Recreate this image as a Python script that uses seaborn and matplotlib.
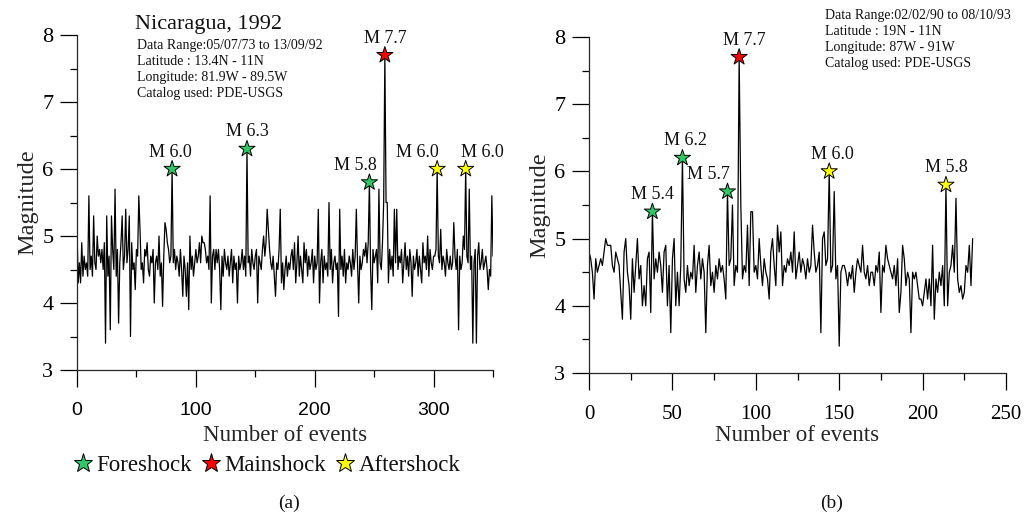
import numpy as np
import pandas as pd
import matplotlib
matplotlib.use("Agg")
import matplotlib.pyplot as plt
from matplotlib.lines import Line2D
from matplotlib.ticker import MultipleLocator
import seaborn as sns

# ---------------- data ----------------
# Magnitude sequence, Nicaragua 1992 (event number 0..350)
mag_a = [
    5.1, 4.3, 4.6, 4.3, 4.9, 4.4, 4.7, 4.5, 4.6, 4.4,
    5.6, 4.5, 4.7, 4.4, 5.3, 4.6, 4.5, 5.0, 4.7, 4.8,
    4.6, 4.8, 4.5, 4.9, 3.4, 5.3, 4.4, 4.7, 3.6, 5.3,
    4.8, 4.5, 5.7, 4.4, 4.8, 3.7, 4.6, 4.9, 5.3, 4.5,
    4.7, 5.4, 4.6, 4.8, 5.3, 3.5, 4.9, 4.5, 4.6, 4.2,
    4.8, 4.7, 5.6, 5.1, 4.5, 4.6, 4.3, 4.8, 4.7, 4.9,
    4.5, 4.4, 4.7, 4.6, 4.8, 4.0, 4.6, 4.7, 4.5, 5.0,
    4.4, 4.6, 3.95, 4.7, 5.2, 5.1, 4.9, 4.8, 4.6, 4.7,
    6.0, 4.6, 4.8, 4.5, 4.7, 4.6, 4.4, 4.8, 4.5, 4.1,
    4.7, 4.5, 4.1, 4.6, 3.9, 5.0, 4.5, 4.7, 4.4, 4.6,
    4.8, 4.6, 4.7, 4.9, 4.6, 5.0, 4.9, 4.9, 4.8, 4.6,
    4.7, 4.5, 5.6, 4.0, 4.7, 4.8, 4.5, 4.8, 4.6, 4.8,
    4.5, 3.9, 4.7, 4.4, 4.8, 4.6, 4.5, 4.7, 4.4, 4.6,
    4.8, 4.3, 4.7, 4.5, 4.6, 4.0, 4.7, 4.5, 4.6, 4.8,
    4.5, 4.7, 4.4, 6.3, 4.6, 4.7, 4.4, 4.8, 4.6, 4.5,
    4.7, 4.8, 4.0, 4.7, 4.6, 4.5, 4.8, 5.0, 4.7, 4.9,
    5.4, 5.1, 4.8, 4.6, 4.5, 4.7, 4.4, 4.1, 4.6, 4.5,
    4.8, 5.4, 4.3, 4.6, 4.2, 4.5, 4.7, 4.4, 4.6, 4.5,
    4.7, 4.8, 4.5, 4.9, 4.3, 4.6, 5.0, 4.4, 4.7, 4.5,
    4.3, 4.9, 4.6, 4.8, 4.4, 4.7, 4.5, 4.6, 4.8, 4.3,
    4.7, 4.5, 4.6, 5.4, 4.0, 4.6, 4.8, 4.3, 4.7, 4.5,
    4.6, 4.4, 5.5, 4.5, 4.8, 4.3, 4.6, 4.7, 4.5, 4.6,
    3.8, 5.4, 4.5, 4.7, 4.4, 4.8, 4.3, 4.6, 4.5, 4.7,
    4.6, 4.4, 4.8, 4.5, 4.7, 5.4, 4.6, 4.0, 4.7, 4.5,
    4.6, 4.8, 4.7, 4.9, 4.6, 4.9, 5.8, 4.5, 3.9, 4.8,
    4.6, 4.7, 4.8, 4.3, 5.7, 4.6, 4.5, 4.9, 5.5, 7.7,
    5.5, 5.5, 4.3, 4.8, 4.5, 4.7, 4.4, 5.4, 4.6, 5.4,
    4.5, 4.7, 4.6, 4.8, 4.3, 4.6, 4.9, 4.5, 4.7, 4.4,
    4.8, 4.6, 4.1, 4.7, 4.5, 4.6, 4.8, 4.4, 4.7, 4.5,
    4.3, 4.9, 4.6, 4.7, 4.5, 5.0, 4.4, 4.8, 4.6, 4.5,
    4.7, 4.7, 4.8, 6.0, 4.7, 4.6, 5.1, 4.5, 4.7, 4.6,
    4.4, 4.8, 4.6, 4.5, 4.7, 4.5, 4.6, 5.2, 4.7, 4.5,
    4.8, 3.6, 4.7, 4.5, 4.6, 5.0, 4.8, 6.0, 4.7, 4.6,
    5.7, 4.5, 4.7, 3.4, 4.6, 4.8, 3.4, 4.7, 4.9, 4.5,
    4.6, 4.8, 4.5, 4.6, 4.7, 4.5, 4.2, 4.5, 4.4, 5.6,
    4.7,
]

# Magnitude sequence, second region (event number 0..230)
mag_b = [
    4.8, 4.7, 4.5, 4.1, 4.7, 4.5, 4.6, 4.7, 4.6, 4.8,
    5.0, 4.9, 4.9, 4.9, 4.6, 4.5, 4.8, 4.7, 4.6, 4.2,
    3.8, 4.8, 5.0, 4.5, 4.3, 3.8, 4.7, 4.2, 4.6, 5.0,
    4.4, 4.6, 4.0, 4.3, 4.0, 4.7, 4.8, 3.9, 5.4, 4.4,
    4.7, 4.5, 4.8, 4.6, 4.2, 4.8, 4.9, 4.0, 4.6, 3.6,
    4.7, 5.0, 4.0, 4.5, 4.0, 4.6, 6.2, 4.4, 4.2, 4.6,
    4.3, 4.5, 4.4, 4.9, 4.2, 4.6, 4.8, 4.4, 4.7, 4.5,
    3.6, 4.6, 4.9, 4.3, 4.5, 4.2, 4.6, 4.4, 4.7, 4.5,
    4.6, 4.4, 4.1, 5.7, 4.6, 4.7, 5.5, 4.3, 4.6, 4.5,
    7.7, 5.5, 4.4, 4.6, 4.5, 5.2, 4.3, 5.4, 5.4, 4.5,
    4.6, 4.4, 5.0, 4.6, 4.3, 4.7, 4.5, 4.4, 4.1, 4.8,
    5.0, 4.6, 4.3, 5.2, 4.8, 5.1, 4.3, 4.6, 4.5, 4.7,
    4.6, 4.8, 4.5, 5.1, 4.4, 4.6, 4.8, 4.5, 4.7, 4.6,
    4.4, 4.7, 4.5, 4.6, 5.2, 4.8, 4.5, 4.6, 4.8, 3.6,
    5.0, 5.1, 4.6, 4.7, 6.0, 4.5, 4.6, 5.7, 4.4, 4.6,
    3.4, 4.5, 4.6, 4.6, 4.5, 4.3, 4.5, 4.4, 4.6, 4.2,
    4.5, 4.7, 4.6, 4.5, 4.9, 4.5, 4.4, 4.6, 4.3, 4.5,
    4.5, 4.3, 4.6, 4.5, 4.8, 3.9, 4.6, 4.5, 4.9, 4.7,
    4.6, 4.5, 4.4, 4.6, 4.3, 4.7, 3.9, 4.2, 4.9, 4.7,
    4.3, 4.5, 4.4, 3.6, 4.5, 4.4, 4.5, 4.3, 4.1, 4.1,
    4.0, 4.2, 4.4, 4.1, 4.4, 4.0, 4.9, 3.8, 4.4, 4.2,
    4.5, 4.3, 4.6, 4.0, 5.8, 4.0, 4.5, 4.6, 4.9, 4.5,
    5.6, 4.4, 4.2, 4.3, 4.1, 4.2, 4.6, 4.5, 4.9, 4.3,
    5.0,
]

# Highlighted events: event number and shock type
events_a = [80, 143, 246, 259, 303, 327]
types_a = ["Foreshock", "Foreshock", "Foreshock", "Mainshock", "Aftershock", "Aftershock"]
events_b = [38, 56, 83, 90, 144, 214]
types_b = ["Foreshock", "Foreshock", "Foreshock", "Mainshock", "Aftershock", "Aftershock"]

shock_types = ["Foreshock", "Mainshock", "Aftershock"]
shock_colors = {"Foreshock": "#2ec866", "Mainshock": "#ff0000", "Aftershock": "#ffff00"}

title_a = "Nicaragua, 1992"
info_a = ["Data Range:05/07/73 to 13/09/92", "Latitude : 13.4N - 11N",
          "Longitude: 81.9W - 89.5W", "Catalog used: PDE-USGS"]
info_b = ["Data Range:02/02/90 to 08/10/93", "Latitude : 19N - 11N",
          "Longitude: 87W - 91W", "Catalog used: PDE-USGS"]

# label offsets (points) for the magnitude tags above the stars
offsets_a = [(-1, 9), (0, 9), (-10, 9), (0, 9), (-14, 9), (12, 9)]
offsets_b = [(0, 9), (2, 9), (-14, 9), (4, 9), (2, 9), (0, 9)]

# ---------------- style ----------------
sns.set_style("ticks")
SERIF = ["Liberation Serif", "DejaVu Serif"]
plt.rcParams["font.family"] = SERIF
plt.rcParams["axes.linewidth"] = 0.9
plt.rcParams["xtick.color"] = "black"
plt.rcParams["ytick.color"] = "black"
plt.rcParams["text.color"] = "#111111"

fig = plt.figure(figsize=(10.28, 5.18), dpi=100)
ax_a = fig.add_axes([0.0749, 0.2857, 0.4047, 0.6467])
ax_b = fig.add_axes([0.5730, 0.2799, 0.4056, 0.6487])


def draw_panel(ax, mags, events, types, offsets, xmax, xmajor, sans_xticks, xpad):
    df = pd.DataFrame({"event": np.arange(len(mags)), "mag": mags})
    sns.lineplot(data=df, x="event", y="mag", ax=ax, color="black",
                 linewidth=0.9, estimator=None, sort=False)
    pts = pd.DataFrame({"event": events,
                        "mag": [mags[i] for i in events],
                        "type": types})
    sns.scatterplot(data=pts, x="event", y="mag", hue="type", palette=shock_colors,
                    hue_order=shock_types, marker="*", s=150, edgecolor="black",
                    linewidth=0.7, ax=ax, legend=False, zorder=5)
    for (ev, m), (dx, dy) in zip(zip(pts["event"], pts["mag"]), offsets):
        ax.annotate(f"M {m:.1f}", xy=(ev, m), xytext=(dx, dy),
                    textcoords="offset points", ha="center", va="baseline",
                    fontsize=13)

    ax.set_xlim(0, xmax)
    ax.set_ylim(3, 8)
    ax.xaxis.set_major_locator(MultipleLocator(xmajor))
    ax.xaxis.set_minor_locator(MultipleLocator(xmajor / 2))
    ax.yaxis.set_major_locator(MultipleLocator(1))
    ax.yaxis.set_minor_locator(MultipleLocator(0.5))
    ax.tick_params(which="major", direction="out", length=12, width=0.9,
                   labelsize=15)
    ax.tick_params(which="minor", direction="out", length=5, width=0.9)
    ax.tick_params(axis="y", which="major", pad=5, labelsize=16)
    ax.tick_params(axis="x", which="major", pad=11)
    if sans_xticks:
        for lab in ax.get_xticklabels():
            lab.set_family(["Liberation Sans", "DejaVu Sans"])
            lab.set_fontsize(14)
    sns.despine(ax=ax)
    ax.spines["left"].set_bounds(3, 8)
    ax.set_xlabel("Number of events", fontsize=16.5, labelpad=xpad)
    ax.set_ylabel("Magnitude", fontsize=17.5, labelpad=3)


draw_panel(ax_a, mag_a, events_a, types_a, offsets_a, 350, 100, True, 4)
draw_panel(ax_b, mag_b, events_b, types_b, offsets_b, 250, 50, False, 1)

# titles and catalogue notes
ax_a.text(0.139, 1.032, title_a, transform=ax_a.transAxes, fontsize=16,
          ha="left", va="center")
for k, line in enumerate(info_a):
    ax_a.text(0.144, 0.970 - k * 0.0478, line, transform=ax_a.transAxes,
              fontsize=10, ha="left", va="center")
for k, line in enumerate(info_b):
    ax_b.text(0.566, 1.065 - k * 0.0476, line, transform=ax_b.transAxes,
              fontsize=10, ha="left", va="center")

# legend for shock types
handles = [Line2D([0], [0], marker="*", linestyle="none", markersize=14,
                  markerfacecolor=shock_colors[t], markeredgecolor="black",
                  markeredgewidth=0.7) for t in shock_types]
fig.legend(handles, shock_types, loc="center", bbox_to_anchor=(267 / 1028, 1 - 465 / 518),
           ncol=3, frameon=False, fontsize=16.5, handlelength=0.8,
           handletextpad=0.2, columnspacing=0.4, borderpad=0)

fig.text(289 / 1028, 1 - 503 / 518, "(a)", ha="center", va="center", fontsize=14)
fig.text(832 / 1028, 1 - 503 / 518, "(b)", ha="center", va="center", fontsize=14)

fig.savefig("out.png", dpi=100)
